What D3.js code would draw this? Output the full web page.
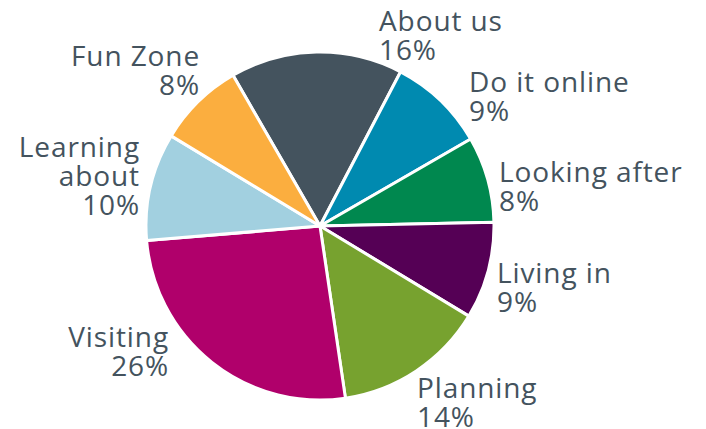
<!DOCTYPE html>
<html>
<head>
<meta charset="utf-8">
<script src="https://cdn.jsdelivr.net/npm/d3@7"></script>
<style>
  html, body { margin: 0; padding: 0; background: #ffffff; }
  svg { display: block; }
  text { font-family: "Open Sans", "Noto Sans", sans-serif; fill: #44535e; }
</style>
</head>
<body>
<svg id="chart" width="706" height="429"></svg>
<script>
// Share of visits by site section (percent), clockwise from "About us"
const categories = ["About us", "Do it online", "Looking after", "Living in", "Planning", "Visiting", "Learning about", "Fun Zone"];
const shares = [16, 9, 8, 9, 14, 26, 10, 8];
const sliceColors = ["#44535e", "#008ab0", "#00884f", "#550055", "#77a22f", "#b0006b", "#a2d0e0", "#fbae3f"];
// Label text lines for each section
const labelLines = [["About us"], ["Do it online"], ["Looking after"], ["Living in"], ["Planning"], ["Visiting"], ["Learning", "about"], ["Fun Zone"]];

const svg = d3.select("#chart");
const cx = 320, cy = 226, radius = 174;

const data = categories.map((c, i) => ({ name: c, value: shares[i], color: sliceColors[i], lines: labelLines[i] }));

const pie = d3.pie()
  .value(d => d.value)
  .sort(null)
  .startAngle(-Math.PI / 6)
  .endAngle(-Math.PI / 6 + 2 * Math.PI);

const arc = d3.arc().innerRadius(0).outerRadius(radius);

const g = svg.append("g").attr("transform", `translate(${cx},${cy})`);
const arcs = pie(data);

g.selectAll("path.slice")
  .data(arcs)
  .join("path")
  .attr("class", "slice")
  .attr("d", arc)
  .attr("fill", d => d.data.color)
  .attr("stroke", "#ffffff")
  .attr("stroke-width", 3)
  .attr("stroke-linejoin", "round");

// Label anchor: position of the first baseline relative to the centre, and alignment
const labelPlacement = {
  "About us":       { x: 59,  y: -195, anchor: "start" },
  "Do it online":   { x: 149, y: -134, anchor: "start" },
  "Looking after":  { x: 179, y: -44,  anchor: "start" },
  "Living in":      { x: 177, y: 57,   anchor: "start" },
  "Planning":       { x: 97,  y: 172,  anchor: "start" },
  "Visiting":       { x: -151, y: 121, anchor: "end" },
  "Learning about": { x: -180, y: -69, anchor: "end" },
  "Fun Zone":       { x: -120, y: -160, anchor: "end" }
};

const lineHeight = 29;
const fontSize = 28;

arcs.forEach(a => {
  const p = labelPlacement[a.data.name];
  const lines = a.data.lines.concat([d3.format(".0f")(a.data.value) + "%"]);
  const t = g.append("text")
    .attr("x", p.x)
    .attr("y", p.y)
    .attr("text-anchor", p.anchor)
    .attr("font-size", fontSize)
    .attr("letter-spacing", 0.9);
  lines.forEach((ln, i) => {
    t.append("tspan")
      .attr("x", p.x)
      .attr("dy", i === 0 ? 0 : lineHeight)
      .text(ln);
  });
});
</script>
</body>
</html>
